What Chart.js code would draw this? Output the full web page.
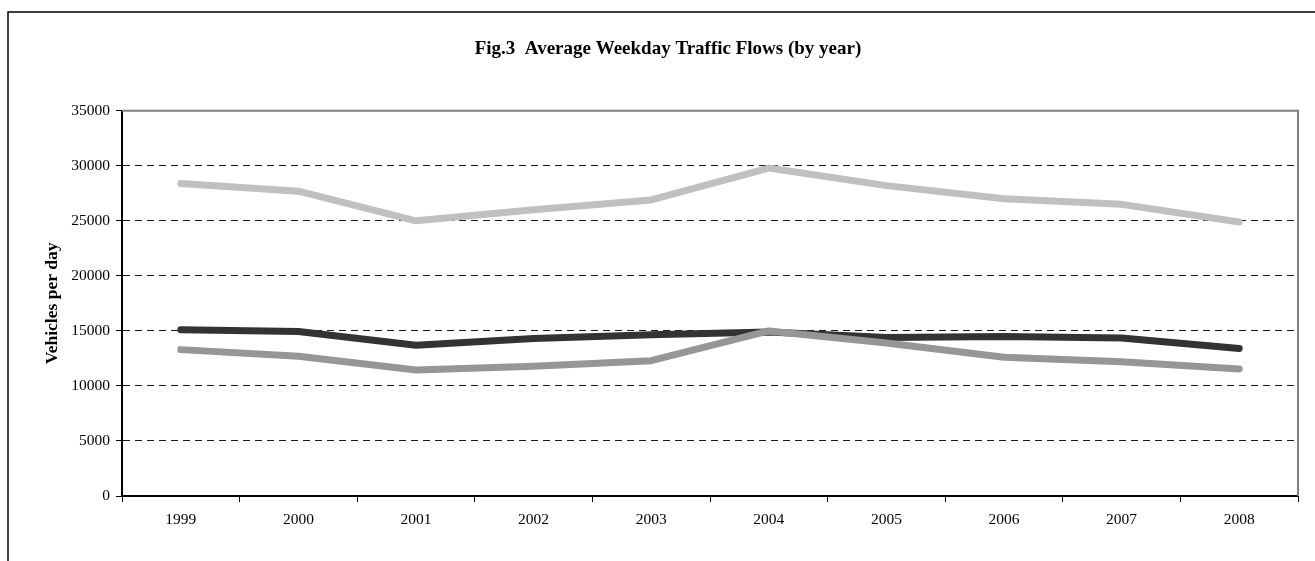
<!DOCTYPE html>
<html>
<head>
<meta charset="utf-8">
<script src="https://cdn.jsdelivr.net/npm/chart.js@4/dist/chart.umd.min.js"></script>
<style>
html, body { margin: 0; padding: 0; background: #fff; overflow: hidden; }
#wrap { position: relative; width: 1315px; height: 561px; }
</style>
</head>
<body>
<div id="wrap"><canvas id="flowChart" width="1315" height="561"></canvas></div>
<script>
// values
var years = ["1999", "2000", "2001", "2002", "2003", "2004", "2005", "2006", "2007", "2008"];
var flowLight = [28400, 27700, 25000, 26000, 26900, 29800, 28200, 27000, 26500, 24900];
var flowDark = [15100, 14950, 13700, 14300, 14650, 14900, 14400, 14500, 14350, 13400];
var flowMid = [13300, 12700, 11450, 11800, 12300, 15000, 13900, 12600, 12200, 11550];
var yMin = 0, yMax = 35000, yStep = 5000;

var serif = "'Liberation Serif', 'Times New Roman', serif";

// outer frame + grey plot border, like the old Excel chart
var framePlugin = {
    id: "frame",
    beforeDraw: function(chart) {
        var ctx = chart.ctx;
        ctx.save();
        ctx.fillStyle = "#fff";
        ctx.fillRect(0, 0, chart.width, chart.height);
        ctx.strokeStyle = "#000";
        ctx.lineWidth = 1.5;
        ctx.beginPath();
        ctx.moveTo(8, chart.height + 2);
        ctx.lineTo(8, 12);
        ctx.lineTo(chart.width + 2, 12);
        ctx.stroke();
        ctx.restore();
    },
    beforeDatasetsDraw: function(chart) {
        var a = chart.chartArea, ctx = chart.ctx;
        ctx.save();
        ctx.strokeStyle = "#808080";
        ctx.lineWidth = 2;
        ctx.beginPath();
        ctx.moveTo(a.left, a.top);
        ctx.lineTo(a.right, a.top);
        ctx.lineTo(a.right, a.bottom);
        ctx.stroke();
        ctx.restore();
    }
};

var lineStyle = function(label, data, colour) {
    return {
        label: label,
        data: data,
        borderColor: colour,
        backgroundColor: colour,
        borderWidth: 7,
        borderCapStyle: "round",
        borderJoinStyle: "round",
        pointRadius: 0,
        tension: 0,
        fill: false
    };
};

new Chart(document.getElementById("flowChart"), {
    type: "line",
    data: {
        labels: years,
        datasets: [
            lineStyle("Series C", flowMid, "#969696"),
            lineStyle("Series B", flowDark, "#333333"),
            lineStyle("Series A", flowLight, "#c0c0c0")
        ]
    },
    options: {
        responsive: false,
        animation: false,
        devicePixelRatio: 1,
        layout: { padding: { left: 38, right: 17, top: 0, bottom: 0 } },
        plugins: {
            legend: { display: false },
            tooltip: { enabled: false },
            title: {
                display: true,
                text: "Fig.3  Average Weekday Traffic Flows (by year)",
                color: "#000",
                font: { family: serif, size: 19, weight: "bold" },
                padding: { top: 38, bottom: 50 }
            }
        },
        scales: {
            x: {
                offset: true,
                grid: {
                    offset: true,
                    drawOnChartArea: false,
                    color: "#000",
                    tickColor: "#000",
                    tickLength: 6
                },
                border: { color: "#000", width: 2 },
                ticks: {
                    color: "#000",
                    padding: 9,
                    maxRotation: 0,
                    font: { family: serif, size: 15.5 }
                },
                afterFit: function(s) { s.height = 65; }
            },
            y: {
                min: yMin,
                max: yMax,
                grid: {
                    color: function(c) {
                        var v = c.tick ? c.tick.value : null;
                        return (v === yMin || v === yMax) ? "rgba(0,0,0,0)" : "#1a1a1a";
                    },
                    lineWidth: 1,
                    tickBorderDash: [],
                    tickColor: "#000",
                    tickLength: 6
                },
                border: { color: "#000", width: 2, dash: [7, 5] },
                ticks: {
                    stepSize: yStep,
                    color: "#000",
                    padding: 6,
                    font: { family: serif, size: 15.5 },
                    callback: function(v) { return String(v); }
                },
                title: {
                    display: true,
                    text: "Vehicles per day",
                    color: "#000",
                    font: { family: serif, size: 17.5, weight: "bold" },
                    padding: { top: 4, bottom: 0 }
                },
                afterFit: function(s) { s.width = 84; }
            }
        }
    },
    plugins: [framePlugin]
});
</script>
</body>
</html>
